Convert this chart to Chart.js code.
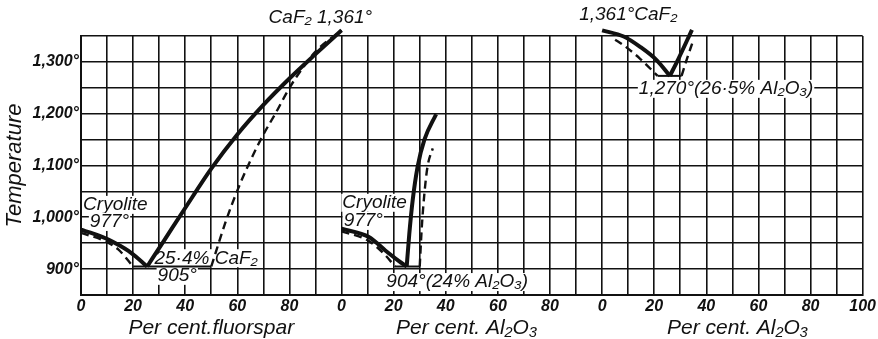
<!DOCTYPE html>
<html>
<head>
<meta charset="utf-8">
<script src="https://cdn.jsdelivr.net/npm/chart.js@4"></script>
<style>
  html, body { margin: 0; padding: 0; background: #fff; }
  #wrap { width: 878px; height: 339px; position: relative; }
</style>
</head>
<body>
<div id="wrap"><canvas id="chart"></canvas></div>
<script>
// --- Data (x in per cent of each panel, y in degrees) ---

// tick labels along the joined x axis (every 20 units) and the y axis
const xTickLabels = ['0', '20', '40', '60', '80', '0', '20', '40', '60', '80', '0', '20', '40', '60', '80', '100'];
const yTickValues = [900, 1000, 1100, 1200, 1300];
const yTickLabels = ['900°', '1,000°', '1,100°', '1,200°', '1,300°'];
const panelTitles = ['Per cent.fluorspar', 'Per cent. Al₂O₃', 'Per cent. Al₂O₃'];

// Panel 1: cryolite - fluorspar
const fluorLiqLeftX = [0, 5, 10.5, 15, 18.2, 22, 25.4];
const fluorLiqLeftY = [976, 968, 957, 945, 935, 920, 905];
const fluorLiqRightX = [25.4, 32, 40, 50, 60, 70, 80, 90, 100];
const fluorLiqRightY = [905, 956, 1018, 1094, 1160, 1217, 1268, 1315, 1361];
const fluorSolLeftX = [0, 9.2, 14.3, 20];
const fluorSolLeftY = [970, 954, 938, 905];
const fluorEutX = [20, 50];
const fluorEutY = [905, 905];
const fluorSolRightX = [50, 55.7, 60.1, 64.6, 69.7, 74.8, 79.8, 84.9, 90, 100];
const fluorSolRightY = [905, 994, 1053, 1105, 1157, 1202, 1248, 1287, 1320, 1361];

// Panel 2: cryolite - alumina
const aluLiqLeftX = [0, 10.5, 16.8, 21.9, 25];
const aluLiqLeftY = [978, 962, 936, 916, 905];
const aluLiqRightX = [25, 26, 27.3, 29.2, 31.8, 36.3];
const aluLiqRightY = [905, 968, 1033, 1098, 1150, 1199];
const aluSolLeftX = [0, 10.2, 16.6, 20.5];
const aluSolLeftY = [973, 955, 928, 905];
const aluEutX = [20.5, 30];
const aluEutY = [905, 905];
const aluSolRightX = [30, 30.8, 31.8, 33, 35];
const aluSolRightY = [905, 981, 1046, 1098, 1133];

// Panel 3: fluorspar - alumina
const cafLiqLeftX = [0, 8.3, 14.6, 21, 26];
const cafLiqLeftY = [1361, 1349, 1329, 1303, 1273];
const cafLiqRightX = [26, 29.3, 34.5];
const cafLiqRightY = [1273, 1306, 1362];
const cafSolLeftX = [5, 8.3, 14.6, 21.3];
const cafSolLeftY = [1343, 1332, 1306, 1273];
const cafEutX = [21.3, 30.5];
const cafEutY = [1273, 1273];
const cafSolRightX = [30.5, 32.5, 34.8];
const cafSolRightY = [1273, 1305, 1339];

// --- Helpers ---

const INK = '#111';
const FONT = '"Liberation Sans", "DejaVu Sans", sans-serif';

function pts(xs, ys, panel) {
    return xs.map((x, i) => ({ x: x + panel * 100, y: ys[i] }));
}

function curve(xs, ys, panel, kind) {
    const ds = {
        data: pts(xs, ys, panel),
        showLine: true,
        pointRadius: 0,
        borderColor: INK,
        borderWidth: 4,
        cubicInterpolationMode: 'monotone',
        clip: false
    };
    if (kind === 'dash') {
        ds.borderWidth = 2.4;
        ds.borderDash = [8, 5];
    }
    if (kind === 'flat') {
        ds.borderWidth = 2;
    }
    return ds;
}

// Text notes placed in axis units
const notes = [
    { text: 'CaF₂ 1,361°', x: 72, y: 1385 },
    { text: 'Cryolite', x: 0.8, y: 1024 },
    { text: '977°', x: 3.4, y: 991 },
    { text: '25·4% CaF₂', x: 28.2, y: 921 },
    { text: '905°', x: 29.4, y: 887 },
    { text: 'Cryolite', x: 100.3, y: 1028 },
    { text: '977°', x: 100.8, y: 993 },
    { text: '904°(24% Al₂O₃)', x: 117.2, y: 875 },
    { text: '1,361°CaF₂', x: 191.2, y: 1392 },
    { text: '1,270°(26·5% Al₂O₃)', x: 214.1, y: 1248 }
];
const titleCenters = [50, 148, 252];

const notesPlugin = {
    id: 'notes',
    beforeDatasetsDraw(chart) {
        const ctx = chart.ctx;
        const xs = chart.scales.x, ys = chart.scales.y;
        ctx.save();
        ctx.font = 'italic 19px ' + FONT;
        ctx.textBaseline = 'middle';
        ctx.textAlign = 'left';
        notes.forEach(n => {
            const px = xs.getPixelForValue(n.x);
            const py = ys.getPixelForValue(n.y);
            const w = ctx.measureText(n.text).width;
            ctx.fillStyle = '#fff';
            ctx.fillRect(px - 1, py - 9, w + 2, 18);
            ctx.fillStyle = INK;
            ctx.fillText(n.text, px, py);
        });
        ctx.restore();
    },
    afterDraw(chart) {
        const ctx = chart.ctx;
        const xs = chart.scales.x;
        ctx.save();
        ctx.font = 'italic 21px ' + FONT;
        ctx.textBaseline = 'middle';
        ctx.textAlign = 'center';
        ctx.fillStyle = INK;
        panelTitles.forEach((t, i) => {
            ctx.fillText(t, xs.getPixelForValue(titleCenters[i]), 328);
        });
        ctx.restore();
    }
};

document.addEventListener('DOMContentLoaded', function() {
    const ctx = document.getElementById('chart').getContext('2d');

    new Chart(ctx, {
        type: 'scatter',
        data: {
            datasets: [
                curve(fluorLiqLeftX, fluorLiqLeftY, 0, 'solid'),
                curve(fluorLiqRightX, fluorLiqRightY, 0, 'solid'),
                curve(fluorSolLeftX, fluorSolLeftY, 0, 'dash'),
                curve(fluorEutX, fluorEutY, 0, 'flat'),
                curve(fluorSolRightX, fluorSolRightY, 0, 'dash'),
                curve(aluLiqLeftX, aluLiqLeftY, 1, 'solid'),
                curve(aluLiqRightX, aluLiqRightY, 1, 'solid'),
                curve(aluSolLeftX, aluSolLeftY, 1, 'dash'),
                curve(aluEutX, aluEutY, 1, 'flat'),
                curve(aluSolRightX, aluSolRightY, 1, 'dash'),
                curve(cafLiqLeftX, cafLiqLeftY, 2, 'solid'),
                curve(cafLiqRightX, cafLiqRightY, 2, 'solid'),
                curve(cafSolLeftX, cafSolLeftY, 2, 'dash'),
                curve(cafEutX, cafEutY, 2, 'flat'),
                curve(cafSolRightX, cafSolRightY, 2, 'dash')
            ]
        },
        options: {
            responsive: true,
            maintainAspectRatio: false,
            animation: false,
            layout: { padding: { top: 36, right: 11, left: 0, bottom: 0 } },
            plugins: {
                legend: { display: false },
                tooltip: { enabled: false }
            },
            scales: {
                x: {
                    type: 'linear',
                    min: 0,
                    max: 300,
                    afterFit: s => { s.height = 44; },
                    grid: { color: INK, lineWidth: 1.6, drawTicks: false },
                    border: { color: INK, width: 2 },
                    ticks: {
                        stepSize: 10,
                        autoSkip: false,
                        maxRotation: 0,
                        padding: 2,
                        color: INK,
                        font: { family: FONT, size: 16, style: 'italic', weight: 'bold' },
                        callback: v => (v % 20 === 0 ? xTickLabels[v / 20] : '')
                    }
                },
                y: {
                    type: 'linear',
                    min: 850,
                    max: 1350,
                    afterFit: s => { s.width = 81; },
                    grid: { color: INK, lineWidth: 1.6, drawTicks: false },
                    border: { color: INK, width: 2 },
                    title: {
                        display: true,
                        text: 'Temperature',
                        color: INK,
                        padding: { top: 2, bottom: 0 },
                        font: { family: FONT, size: 22, style: 'italic' }
                    },
                    ticks: {
                        stepSize: 50,
                        padding: 2,
                        color: INK,
                        font: { family: FONT, size: 16, style: 'italic', weight: 'bold' },
                        callback: v => {
                            const i = yTickValues.indexOf(v);
                            return i >= 0 ? yTickLabels[i] : '';
                        }
                    }
                }
            }
        },
        plugins: [notesPlugin]
    });
});
</script>
</body>
</html>
